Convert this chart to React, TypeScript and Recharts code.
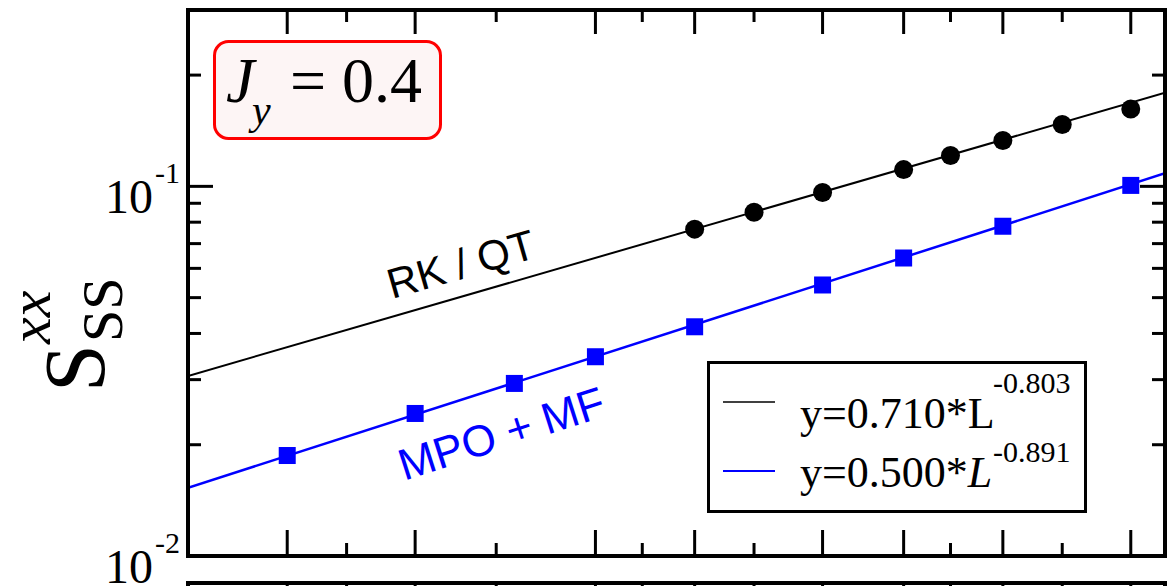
import React from 'react';
import { ComposedChart, Line, Scatter, XAxis, YAxis, Legend, Customized } from 'recharts';

// System sizes L and the measured S_SS^xx values
const rkSizes = [16, 14, 12, 10, 9, 8, 7, 6];
const rkValues = [0.0766, 0.0851, 0.0963, 0.111, 0.1212, 0.133, 0.147, 0.162];
const mpoSizes = [40, 30, 24, 20, 16, 12, 10, 8, 6];
const mpoValues = [0.0187, 0.0243, 0.0293, 0.0346, 0.0417, 0.0541, 0.064, 0.078, 0.1006];

// Power-law fits, taken at both ends of the L range (1/L from 0.02 to 0.18)
const fitSizes = [50, 50 / 9];
const rkFitValues = [0.0307, 0.1791];
const mpoFitValues = [0.0153, 0.1085];

// Axis ticks
const xMajorTicks = [40, 30, 20, 16, 12, 10, 8, 6];
const xMinorTicks = [35, 25, 18, 14, 9, 7];
const yMajorTicks = [0.01, 0.1];
const yMajorExponents = ['-2', '-1'];
const yMinorTicks = [0.02, 0.03, 0.04, 0.05, 0.06, 0.07, 0.08, 0.09, 0.2];

const X_DOMAIN: [number, number] = [50 / 9, 50];
const Y_DOMAIN: [number, number] = [0.01, 0.3];

const SERIF = '"Liberation Serif", "Times New Roman", serif';
const SANS = '"Liberation Sans", Arial, sans-serif';
const BLUE = '#0000ff';

const toRows = (xs: number[], ys: number[]) => xs.map((L, i) => ({ L, v: ys[i] }));

const rkRows = toRows(rkSizes, rkValues);
const mpoRows = toRows(mpoSizes, mpoValues);
const rkFitRows = toRows(fitSizes, rkFitValues);
const mpoFitRows = toRows(fitSizes, mpoFitValues);

const TICK_W = 3;
const AXIS_LINE = { stroke: '#000', strokeWidth: 4, strokeLinecap: 'square' as const };
const serif = { fontFamily: SERIF };

const BottomTick = (props: any) => {
  const { x, y, payload } = props;
  const len = xMajorTicks.includes(payload.value) ? 26 : 13;
  return <line x1={x} x2={x} y1={y} y2={y - len} stroke="#000" strokeWidth={TICK_W} />;
};

const TopTick = (props: any) => {
  const { x, y, payload } = props;
  const len = xMajorTicks.includes(payload.value) ? 24 : 12;
  return <line x1={x} x2={x} y1={y} y2={y + len} stroke="#000" strokeWidth={TICK_W} />;
};

const LeftTick = (props: any) => {
  const { x, y, payload } = props;
  const idx = yMajorTicks.indexOf(payload.value);
  const major = idx >= 0;
  return (
    <g>
      <line x1={x} x2={x + (major ? 25 : 13)} y1={y} y2={y} stroke="#000" strokeWidth={TICK_W} />
      {major && (
        <g fill="#000">
          <text x={153} y={y + 27} fontSize={48} textAnchor="end" style={serif}>10</text>
          <text x={155} y={y - 3} fontSize={30} style={serif}>{yMajorExponents[idx]}</text>
        </g>
      )}
    </g>
  );
};

const RightTick = (props: any) => {
  const { x, y, payload } = props;
  const len = yMajorTicks.includes(payload.value) ? 25 : 13;
  return <line x1={x} x2={x - len} y1={y} y2={y} stroke="#000" strokeWidth={TICK_W} />;
};

const Circle = (props: any) => {
  const { cx, cy } = props;
  return <circle cx={cx} cy={cy} r={9.5} fill="#000" />;
};

const Square = (props: any) => {
  const { cx, cy } = props;
  return <rect x={cx - 8.5} y={cy - 8.5} width={17} height={17} fill={BLUE} />;
};

const FitLegend = () => (
  <svg width={380} height={152} style={{ display: 'block' }}>
    <rect x={1.5} y={1.5} width={377} height={149} fill="#fff" stroke="#000" strokeWidth={3} />
    <line x1={16} x2={68} y1={41} y2={41} stroke="#000" strokeWidth={1.5} />
    <text x={93} y={67} fontSize={44} style={serif} fill="#000">y=0.710*L</text>
    <text x={286} y={32} fontSize={30} style={serif} fill="#000">-0.803</text>
    <line x1={16} x2={68} y1={110} y2={110} stroke={BLUE} strokeWidth={2} />
    <text x={93} y={126} fontSize={44} style={serif} fill="#000">
      y=0.500*<tspan fontStyle="italic">L</tspan>
    </text>
    <text x={286} y={101} fontSize={30} style={serif} fill="#000">-0.891</text>
  </svg>
);

const Annotations = () => (
  <g>
    {/* y-axis title */}
    <text transform="translate(104,392) rotate(-90)" style={serif} fill="#000">
      <tspan x={0} y={0} fontSize={86} style={serif}>S</tspan>
      <tspan x={48} y={-54} fontSize={60} fontStyle="italic" style={serif}>xx</tspan>
      <tspan x={50} y={18} fontSize={58} style={serif}>SS</tspan>
    </text>

    {/* coupling label */}
    <rect x={214.5} y={41.5} width={226} height={97} rx={14} ry={14} fill="#fdf5f5" stroke="#ff0000" strokeWidth={3} />
    <g fill="#000">
      <text x={226} y={102} fontSize={64} fontStyle="italic" style={serif}>J</text>
      <text x={252} y={124} fontSize={42} fontStyle="italic" style={serif}>y</text>
      <text x={290} y={102} fontSize={64} style={serif}>=</text>
      <text x={342} y={102} fontSize={64} style={serif}>0.4</text>
    </g>

    {/* method labels */}
    <text x={465} y={278} fontSize={42} style={{ fontFamily: SANS }} fill="#000" textAnchor="middle" transform="rotate(-16 465 278)">
      RK / QT
    </text>
    <text x={506} y={448} fontSize={44} style={{ fontFamily: SANS }} fill={BLUE} textAnchor="middle" transform="rotate(-17.8 506 448)">
      MPO + MF
    </text>
  </g>
);

const sharedX = {
  type: 'number' as const,
  dataKey: 'L',
  scale: 'log' as const,
  domain: X_DOMAIN,
  reversed: true,
  allowDataOverflow: true,
  ticks: [...xMajorTicks, ...xMinorTicks],
  interval: 0 as const,
  tickSize: 0,
  tickMargin: 0,
  tickLine: false,
  axisLine: AXIS_LINE,
};

const sharedY = {
  type: 'number' as const,
  dataKey: 'v',
  scale: 'log' as const,
  domain: Y_DOMAIN,
  allowDataOverflow: true,
  ticks: [...yMajorTicks, ...yMinorTicks],
  interval: 0 as const,
  tickSize: 0,
  tickMargin: 0,
  tickLine: false,
  axisLine: AXIS_LINE,
};

export default function App() {
  return (
    <div style={{ position: 'absolute', left: 0, top: 0, width: 1170, height: 586, overflow: 'hidden', background: '#fff' }}>
      <div style={{ position: 'absolute', left: 0, top: 0 }}>
        <ComposedChart width={1170} height={586} margin={{ top: 0, right: 0, bottom: 0, left: 0 }}>
          <XAxis xAxisId="bottom" orientation="bottom" height={30} tick={BottomTick} {...sharedX} />
          <XAxis xAxisId="top" orientation="top" height={10} tick={TopTick} {...sharedX} />
          <YAxis yAxisId="left" orientation="left" width={188} tick={LeftTick} {...sharedY} />
          <YAxis yAxisId="right" orientation="right" width={5} tick={RightTick} {...sharedY} />

          <Line xAxisId="bottom" yAxisId="left" data={rkFitRows} dataKey="v" stroke="#000" strokeWidth={2} dot={false} isAnimationActive={false} />
          <Line xAxisId="bottom" yAxisId="left" data={mpoFitRows} dataKey="v" stroke={BLUE} strokeWidth={2.5} dot={false} isAnimationActive={false} />
          <Scatter xAxisId="bottom" yAxisId="left" data={rkRows} dataKey="v" shape={Circle} isAnimationActive={false} />
          <Scatter xAxisId="bottom" yAxisId="left" data={mpoRows} dataKey="v" shape={Square} isAnimationActive={false} />

          <Customized component={Annotations} />
          <Legend
            layout="horizontal"
            verticalAlign="middle"
            align="center"
            content={() => <FitLegend />}
            wrapperStyle={{ left: 707, top: 361, width: 380, height: 152 }}
          />
        </ComposedChart>
      </div>

      {/* top frame of the panel below */}
      <div style={{ position: 'absolute', left: 0, top: 573 }}>
        <ComposedChart width={1170} height={100} margin={{ top: 0, right: 0, bottom: 0, left: 0 }}>
          <XAxis xAxisId="top" orientation="top" height={10} tick={TopTick} {...sharedX} />
          <XAxis xAxisId="bottom" orientation="bottom" height={0} hide {...sharedX} />
          <YAxis yAxisId="left" orientation="left" width={188} tick={false} {...sharedY} ticks={[]} />
          <YAxis yAxisId="right" orientation="right" width={5} tick={false} {...sharedY} ticks={[]} />
        </ComposedChart>
      </div>
    </div>
  );
}
